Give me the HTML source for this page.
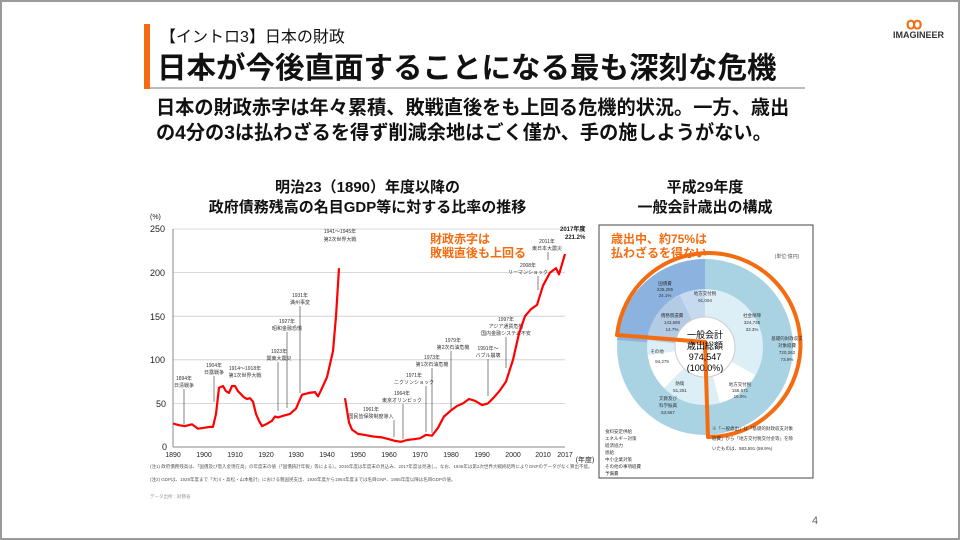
<!DOCTYPE html>
<html><head><meta charset="utf-8"><style>
body{margin:0;width:960px;height:540px;overflow:hidden;background:#fff;font-family:"Liberation Sans","Noto Sans CJK JP",sans-serif}
.frame{position:absolute;left:0;top:0;width:956px;height:536px;border:2px solid #9a9a9a}
.t{position:absolute;white-space:nowrap;color:#111}
</style></head><body>
<div class="frame"></div>
<div style="position:absolute;left:144px;top:24px;width:6px;height:65px;background:#f36c10"></div>
<div style="position:absolute;left:150px;top:87px;width:655px;height:2px;background:#bbb"></div>
<div class="t" style="left:160px;top:23px;font-size:16px">【イントロ3】日本の財政</div>
<div class="t" style="left:157px;top:45px;font-size:29.5px;font-weight:bold">日本が今後直面することになる最も深刻な危機</div>
<div class="t" style="left:156px;top:96px;font-size:19.2px;font-weight:bold;line-height:25px">日本の財政赤字は年々累積、敗戦直後をも上回る危機的状況。一方、歳出<br>の4分の3は払わざるを得ず削減余地はごく僅か、手の施しようがない。</div>
<div class="t" style="left:906px;top:14px;font-size:16px;color:#f36c10;font-weight:bold">ꝏ</div>
<div class="t" style="left:893px;top:30px;font-size:9px;font-weight:bold;color:#333">IMAGINEER</div>
<div class="t" style="left:0;width:735px;text-align:center;top:178px;font-size:15px;font-weight:bold;line-height:20px">明治23（1890）年度以降の<br>政府債務残高の名目GDP等に対する比率の推移</div>
<div class="t" style="left:600px;width:210px;text-align:center;top:178px;font-size:15px;font-weight:bold;line-height:20px">平成29年度<br>一般会計歳出の構成</div>
<div class="t" style="left:812px;top:515px;font-size:11px;color:#666">4</div>
<svg style="position:absolute;left:0;top:0" width="960" height="540">
<g font-size="9" fill="#222" font-family="Liberation Sans">
<text x="150" y="219" font-size="7">(%)</text>
<g stroke="#ccc" stroke-width="0.8">
<line x1="173" y1="229" x2="565" y2="229"/><line x1="173" y1="272.6" x2="565" y2="272.6"/><line x1="173" y1="316.2" x2="565" y2="316.2"/><line x1="173" y1="359.8" x2="565" y2="359.8"/><line x1="173" y1="403.4" x2="565" y2="403.4"/></g>
<line x1="173" y1="229" x2="173" y2="447" stroke="#888"/>
<line x1="173" y1="447" x2="565" y2="447" stroke="#888"/>
<text x="150" y="232">250</text><text x="150" y="276">200</text><text x="150" y="320">150</text><text x="150" y="363">100</text><text x="156" y="407">50</text><text x="162" y="450">0</text>
<g font-size="7" text-anchor="middle">
<text x="173" y="457">1890</text><text x="204" y="457">1900</text><text x="235" y="457">1910</text><text x="266" y="457">1920</text><text x="296" y="457">1930</text><text x="327" y="457">1940</text><text x="358" y="457">1950</text><text x="389" y="457">1960</text><text x="420" y="457">1970</text><text x="451" y="457">1980</text><text x="482" y="457">1990</text><text x="513" y="457">2000</text><text x="543" y="457">2010</text><text x="565" y="457">2017</text><text x="585" y="462">(年度)</text></g>
<g font-size="5" fill="#333" text-anchor="middle">
<text x="184" y="380">1894年</text><text x="184" y="387">日清戦争</text>
<text x="214" y="367">1904年</text><text x="214" y="374">日露戦争</text>
<text x="245" y="370">1914〜1918年</text><text x="245" y="377">第1次世界大戦</text>
<text x="279" y="353">1923年</text><text x="279" y="360">関東大震災</text>
<text x="287" y="323">1927年</text><text x="287" y="330">昭和金融恐慌</text>
<text x="300" y="297">1931年</text><text x="300" y="304">満州事変</text>
<text x="340" y="233">1941〜1945年</text><text x="340" y="241">第2次世界大戦</text>
<text x="371" y="411">1961年</text><text x="371" y="418">国民皆保険制度導入</text>
<text x="402" y="395">1964年</text><text x="402" y="402">東京オリンピック</text>
<text x="414" y="377">1971年</text><text x="414" y="384">ニクソンショック</text>
<text x="432" y="359">1973年</text><text x="432" y="366">第1次石油危機</text>
<text x="453" y="342">1979年</text><text x="453" y="349">第2次石油危機</text>
<text x="488" y="350">1991年〜</text><text x="488" y="357">バブル崩壊</text>
<text x="506" y="321">1997年</text><text x="506" y="328">アジア通貨危機</text><text x="506" y="335">国内金融システム不安</text>
<text x="528" y="267">2008年</text><text x="528" y="274">リーマンショック</text>
<text x="547" y="243">2011年</text><text x="547" y="250">東日本大震災</text>
</g>
<text x="560" y="231" font-size="6" font-weight="bold">2017年度</text><text x="565" y="239" font-size="6" font-weight="bold">221.2%</text>
<text x="430" y="243" font-size="12" fill="#f36c10" font-weight="bold" font-family="Liberation Sans,Noto Sans CJK JP">財政赤字は</text>
<text x="430" y="257" font-size="12" fill="#f36c10" font-weight="bold" font-family="Liberation Sans,Noto Sans CJK JP">敗戦直後も上回る</text>
<g stroke="#333" stroke-width="0.6">
<line x1="184" y1="389" x2="184" y2="424"/><line x1="214" y1="376" x2="214" y2="402"/><line x1="278" y1="362" x2="278" y2="411"/><line x1="287" y1="332" x2="287" y2="408"/><line x1="300" y1="306" x2="300" y2="393"/>
<line x1="394" y1="420" x2="394" y2="437"/><line x1="403" y1="404" x2="403" y2="439"/><line x1="426" y1="386" x2="426" y2="432"/><line x1="432" y1="368" x2="432" y2="433"/><line x1="451" y1="351" x2="451" y2="410"/><line x1="488" y1="359" x2="488" y2="396"/><line x1="506" y1="337" x2="506" y2="368"/><line x1="538" y1="276" x2="538" y2="290"/><line x1="548" y1="252" x2="548" y2="260"/></g>
</g>
<polyline fill="none" stroke="#f00" stroke-width="2.2" stroke-linejoin="round" points="173,423.5 179,425.2 185,426.1 192,424.3 198,428.7 204,427.8 210,426.9 213,426.9 216,413.9 219,387.7 223,386 226,391.2 229,392.9 232,386 235,386 238,391.2 244,397.3 247,399 250,398.2 253,401.7 256,413.9 259,420.8 262,426.1 266,424.3 272,420.8 275,416.5 278,417.4 284,415.6 290,413.9 296,408.6 302,394.7 309,392.9 315,392.1 318,396.4 321,390.3 327,377.2 333,351.1 336,316.2 339,268.2"/>
<polyline fill="none" stroke="#f00" stroke-width="2.2" stroke-linejoin="round" points="345,398.2 349,422.6 352,429.6 358,433.9 364,434.8 373,436.5 382,437.4 389,439.2 395,440.9 401,441.8 407,440 414,439.2 420,438.3 426,434.8 432,435.7 438,427.8 444,416.5 451,410.4 457,406 463,403.4 469,399 475,400.8 482,405.1 488,403.4 494,397.3 500,390.3 506,381.6 513,359.8 519,333.6 525,316.2 531,309.2 537,304.9 543,285.7 550,272.6 556,268.2 559,274.4 565,254"/>
<g font-size="4.5" fill="#555"><text x="150" y="468">(注1) 政府債務残高は、「国債及び借入金現在高」の年度末の値（「国債統計年報」等による）。2016年度は年度末の見込み、2017年度は見通し。なお、1945年は第2次世界大戦終結時によりGNPのデータがなく算出不能。</text><text x="150" y="481">(注2) GDPは、1929年度まで「大川・高松・山本推計」における粗国民支出、1930年度から1954年度までは名目GNP、1955年度以降は名目GDPの値。</text><text x="150" y="498" fill="#999">データ出所：財務省</text></g>
<!-- pie -->
<rect x="599" y="225" width="214" height="253" fill="#fff" stroke="#444" stroke-width="1"/>
<circle cx="705" cy="347" r="88" fill="#a9d3e3"/>
<path d="M705,347 L617,340 A88,88 0 0,1 705,259 Z" fill="#8cb3df"/>
<circle cx="705" cy="347" r="58" fill="#dceef6"/>
<path d="M705,347 L647,340 A58,58 0 0,1 680,295 Z" fill="#b4cbe6"/>
<path d="M705,347 L680,295 A58,58 0 0,1 705,289 Z" fill="#c7d9ee"/>
<path d="M705,347 L648,355 A58,58 0 0,0 664,388 Z" fill="#fff"/>
<path d="M705,347 L755,375 A58,58 0 0,1 720,403 Z" fill="#fff"/>
<circle cx="705" cy="347" r="30" fill="#fff" stroke="#ccc"/>
<path d="M617,335 A92,92 0 1,1 708,437 L705,342 Z" fill="none" stroke="#f36c10" stroke-width="4" stroke-linejoin="round"/>
<g font-family="Liberation Sans,Noto Sans CJK JP" text-anchor="middle">
<text x="705" y="338" font-size="9">一般会計</text><text x="705" y="349" font-size="9">歳出総額</text><text x="705" y="360" font-size="9">974,547</text><text x="705" y="371" font-size="9">(100.0%)</text>
<g font-size="4.5" fill="#333"><text x="665" y="285">国債費</text><text x="665" y="291">235,285</text><text x="665" y="297">24.1%</text>
<text x="705" y="295">地方交付税</text><text x="705" y="302">91,004</text>
<text x="672" y="317">債務償還費</text><text x="672" y="324">143,680</text><text x="672" y="331">14.7%</text>
<text x="752" y="317">社会保障</text><text x="752" y="324">324,735</text><text x="752" y="331">33.3%</text>
<text x="787" y="340">基礎的財政収支</text><text x="787" y="347">対象経費</text><text x="787" y="354">720,262</text><text x="787" y="361">73.9%</text>
<text x="740" y="386">地方交付税</text><text x="740" y="392">155,671</text><text x="740" y="398">16.0%</text>
<text x="657" y="353">その他</text><text x="662" y="363">94,275</text>
<text x="680" y="385">防衛</text><text x="680" y="392">51,251</text>
<text x="668" y="400">文教及び</text><text x="668" y="407">科学振興</text><text x="668" y="414">53,567</text>
</g>
<text x="611" y="243" font-size="12" fill="#f36c10" font-weight="bold" text-anchor="start">歳出中、約75%は</text>
<text x="611" y="257" font-size="12" fill="#f36c10" font-weight="bold" text-anchor="start">払わざるを得ない</text>
<text x="787" y="258" font-size="5" fill="#555">(単位:億円)</text>
<g font-size="4.5" text-anchor="start" fill="#333"><text x="605" y="433">食料安定供給</text><text x="605" y="440">エネルギー対策</text><text x="605" y="447">経済協力</text><text x="605" y="454">恩給</text><text x="605" y="461">中小企業対策</text><text x="605" y="468">その他の事項経費</text><text x="605" y="475">予備費</text>
<text x="712" y="430">※「一般歳出」は「基礎的財政収支対象</text>
<text x="712" y="440">経費」から「地方交付税交付金等」を除</text>
<text x="712" y="450">いたものは、583,591 (59.9%)</text></g>
</g>
</svg>
</body></html>
